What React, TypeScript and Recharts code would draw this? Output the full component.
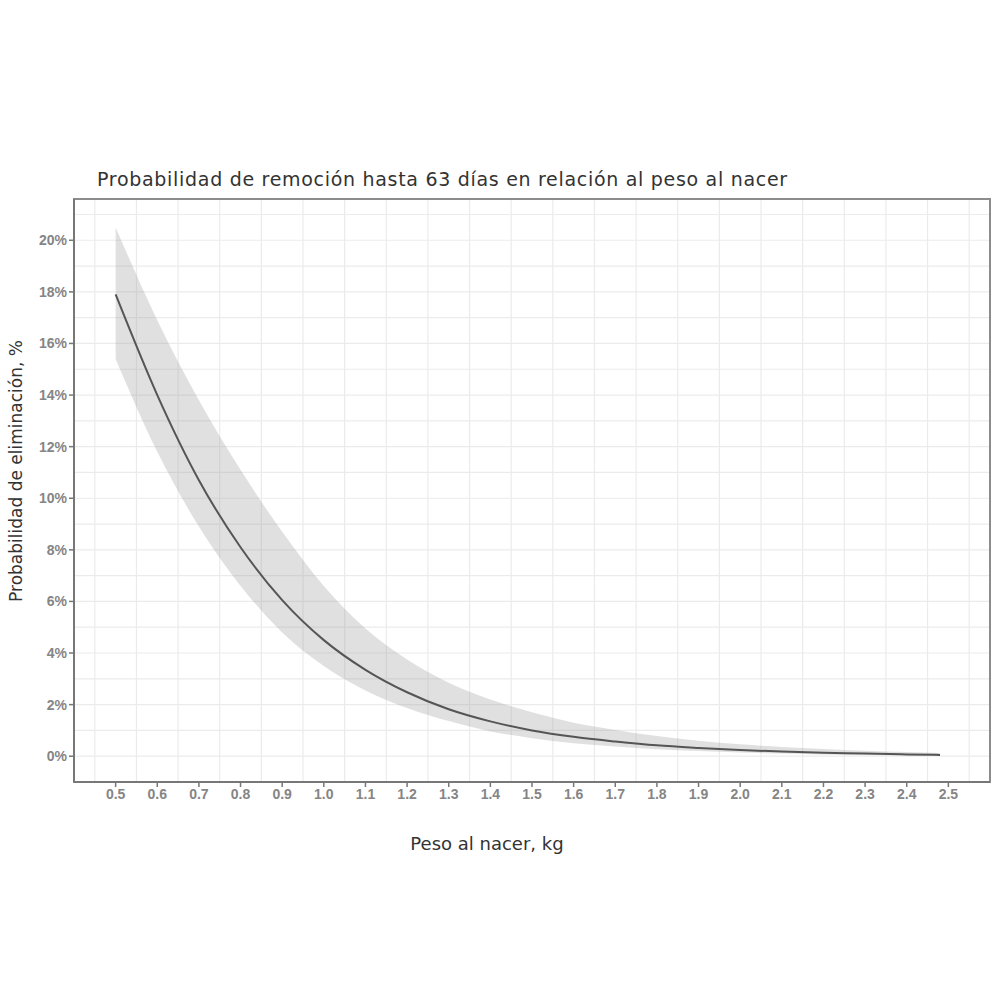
import React from "react";
import {
  ComposedChart,
  Area,
  Line,
  XAxis,
  YAxis,
  CartesianGrid,
  ReferenceArea,
} from "recharts";

const pesos = [0.5, 0.6, 0.7, 0.8, 0.9, 1.0, 1.1, 1.2, 1.3, 1.4, 1.5, 1.6, 1.7, 1.8, 1.9, 2.0, 2.1, 2.2, 2.3, 2.4, 2.48];
const probabilidad = [17.9, 14.0, 10.7, 8.1, 6.05, 4.5, 3.35, 2.48, 1.82, 1.35, 1.0, 0.75, 0.57, 0.42, 0.32, 0.24, 0.18, 0.13, 0.1, 0.07, 0.05];
const limiteSuperior = [20.5, 16.9, 13.8, 11.1, 8.7, 6.6, 4.95, 3.75, 2.85, 2.2, 1.7, 1.3, 1.02, 0.78, 0.6, 0.46, 0.36, 0.28, 0.21, 0.16, 0.12];
const limiteInferior = [15.4, 11.8, 8.9, 6.6, 4.8, 3.5, 2.55, 1.87, 1.36, 0.96, 0.7, 0.5, 0.38, 0.27, 0.2, 0.14, 0.1, 0.07, 0.05, 0.03, 0.02];

const xTicks = [0.5, 0.6, 0.7, 0.8, 0.9, 1.0, 1.1, 1.2, 1.3, 1.4, 1.5, 1.6, 1.7, 1.8, 1.9, 2.0, 2.1, 2.2, 2.3, 2.4, 2.5];
const yTicks = [0, 2, 4, 6, 8, 10, 12, 14, 16, 18, 20];
const xGrid = [0.45, 0.5, 0.55, 0.6, 0.65, 0.7, 0.75, 0.8, 0.85, 0.9, 0.95, 1.0, 1.05, 1.1, 1.15, 1.2, 1.25, 1.3, 1.35, 1.4, 1.45, 1.5, 1.55, 1.6, 1.65, 1.7, 1.75, 1.8, 1.85, 1.9, 1.95, 2.0, 2.05, 2.1, 2.15, 2.2, 2.25, 2.3, 2.35, 2.4, 2.45, 2.5, 2.55];
const yGrid = [0, 1, 2, 3, 4, 5, 6, 7, 8, 9, 10, 11, 12, 13, 14, 15, 16, 17, 18, 19, 20, 21];

const titulo = "Probabilidad de remoción hasta 63 días en relación al peso al nacer";
const tituloX = "Peso al nacer, kg";
const tituloY = "Probabilidad de eliminación, %";

const data = pesos.map((p, i) => ({
  peso: p,
  prob: probabilidad[i],
  banda: [limiteInferior[i], limiteSuperior[i]],
}));

const X_DOMAIN: [number, number] = [0.4, 2.6];
const Y_DOMAIN: [number, number] = [-1.0, 21.6];

const textFont = "'DejaVu Sans', sans-serif";
const tickStyle = { fill: "#858585", fontSize: 14, fontWeight: 700, fontFamily: "'Liberation Sans', Arial, sans-serif" };

export default function App() {
  return (
    <div style={{ position: "absolute", left: 0, top: 0, width: 1000, height: 1000, background: "#fff" }}>
      <ComposedChart
        width={1000}
        height={1000}
        data={data}
        margin={{ top: 199, right: 10, bottom: 188, left: 14 }}
      >
        <CartesianGrid
          stroke="#ebebeb"
          strokeWidth={1.2}
          horizontalValues={yGrid}
          verticalValues={xGrid}
        />
        <XAxis
          type="number"
          dataKey="peso"
          domain={X_DOMAIN}
          ticks={xTicks}
          allowDataOverflow
          tickFormatter={(v: number) => v.toFixed(1)}
          tick={tickStyle}
          tickLine={{ stroke: "#777", strokeWidth: 1.5 }}
          tickSize={5}
          axisLine={{ stroke: "#777", strokeWidth: 2 }}
          height={30}
        />
        <YAxis
          type="number"
          domain={Y_DOMAIN}
          ticks={yTicks}
          allowDataOverflow
          tickFormatter={(v: number) => `${v}%`}
          tick={tickStyle}
          tickLine={{ stroke: "#777", strokeWidth: 1.5 }}
          tickSize={5}
          axisLine={{ stroke: "#777", strokeWidth: 2 }}
          width={60}
        />
        <ReferenceArea
          x1={X_DOMAIN[0]}
          x2={X_DOMAIN[1]}
          y1={Y_DOMAIN[0]}
          y2={Y_DOMAIN[1]}
          fill="none"
          fillOpacity={0}
          stroke="#8c8c8c"
          strokeWidth={2}
        />
        <Area
          type="monotone"
          dataKey="banda"
          stroke="none"
          fill="#999999"
          fillOpacity={0.3}
          isAnimationActive={false}
          activeDot={false}
        />
        <Line
          type="monotone"
          dataKey="prob"
          stroke="#555555"
          strokeWidth={2}
          dot={false}
          activeDot={false}
          isAnimationActive={false}
        />
      </ComposedChart>
      <div
        style={{
          position: "absolute",
          left: 97,
          top: 168,
          fontFamily: textFont,
          fontSize: 19,
          color: "#333",
          whiteSpace: "nowrap",
          letterSpacing: 0.7,
        }}
      >
        {titulo}
      </div>
      <div
        style={{
          position: "absolute",
          left: 487,
          top: 843,
          transform: "translate(-50%, -50%)",
          fontFamily: textFont,
          fontSize: 18,
          color: "#333",
          whiteSpace: "nowrap",
        }}
      >
        {tituloX}
      </div>
      <div
        style={{
          position: "absolute",
          left: 16,
          top: 471,
          transform: "translate(-50%, -50%) rotate(-90deg)",
          fontFamily: textFont,
          fontSize: 17,
          color: "#333",
          whiteSpace: "nowrap",
        }}
      >
        {tituloY}
      </div>
    </div>
  );
}
